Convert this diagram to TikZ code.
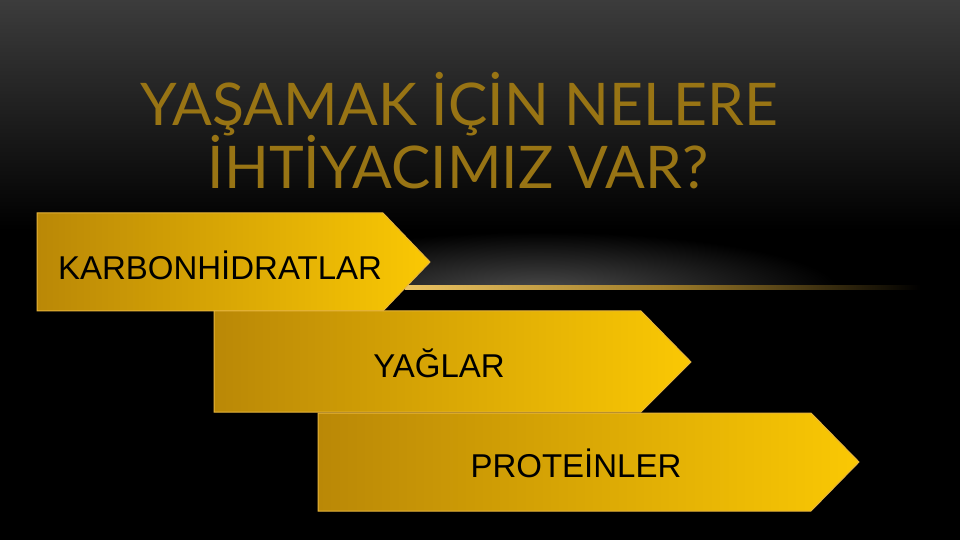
\documentclass[tikz,border=0pt]{standalone}
\usepackage{fontspec}
\setmainfont{Liberation Sans}
\newfontfamily\titlefont{Lato}
\usetikzlibrary{fadings}
\definecolor{titlegold}{RGB}{152,116,20}
\definecolor{golddark}{RGB}{186,136,6}
\definecolor{goldlight}{RGB}{250,200,4}
\definecolor{goldedge}{RGB}{230,180,60}
\definecolor{bgtop}{RGB}{60,60,60}
\tikzset{
  chevronbox/.style={left color=golddark, right color=goldlight, draw=goldedge, line width=0.5pt},
  boxtext/.style={font=\fontsize{16.5pt}{19pt}\selectfont, text=black, inner sep=0pt},
  titletext/.style={font=\titlefont\fontsize{29.4pt}{29pt}\selectfont, text=titlegold, align=center, inner sep=0pt}
}
\begin{document}
\begin{tikzpicture}[x=0.5pt,y=-0.5pt]
\useasboundingbox (0,0) rectangle (960,540);
% background
\fill[black] (0,0) rectangle (960,540);
\shade[top color=bgtop, bottom color=black] (0,0) rectangle (960,230);
% glow above the line
\begin{scope}
\clip (410,225) rectangle (940,287);
\shade[inner color=white!30!black, outer color=black] (540,292) ellipse (300 and 60);
\end{scope}
% gold line
\shade[left color=goldedge!80!white, right color=black, middle color=goldedge!70!black] (405,286) rectangle (920,290);
% arrows
\shade[chevronbox] (37,213) -- (383,213) -- (430,262) -- (383,311) -- (37,311) -- cycle;
\shade[chevronbox] (214,311) -- (641,311) -- (691,362) -- (641,412) -- (214,412) -- cycle;
\shade[chevronbox] (318,413) -- (811,413) -- (859,462) -- (811,511) -- (318,511) -- cycle;
\node[boxtext] (carb) at (220,265) {KARBONHİDRATLAR};
\node[boxtext] (fat) at (439,363) {YAĞLAR};
\node[boxtext] (prot) at (576,463) {PROTEİNLER};
% title
\node[titletext] (title1) at (459,104) {YAŞAMAK İÇİN NELERE};
\node[titletext] (title2) at (458,162) {İHTİYACIMIZ VAR?};
\end{tikzpicture}
\end{document}
